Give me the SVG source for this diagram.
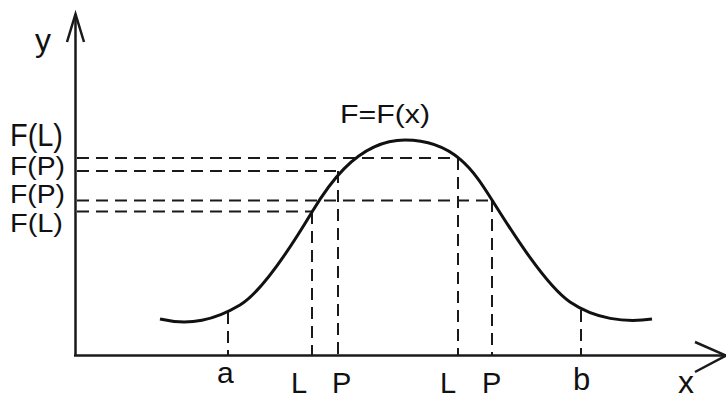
<svg xmlns="http://www.w3.org/2000/svg" width="726" height="401" viewBox="0 0 726 401">
<style>
.ax{stroke:#1a1a1a;stroke-width:2.5;fill:none}
.cv{stroke:#111;stroke-width:3;fill:none}
.ds{stroke:#1a1a1a;stroke-width:2;fill:none;stroke-dasharray:12 7}
text{font-family:"Liberation Sans",Arial,sans-serif;fill:#111}
</style>
<rect width="726" height="401" fill="#fff"/>
<g id="axes">
<line class="ax" x1="75.5" y1="14" x2="75.5" y2="356"/>
<polyline class="ax" points="67,42 75.5,14 84,42"/>
<line class="ax" x1="74" y1="355.5" x2="726" y2="355.5"/>
<polyline class="ax" points="695,342 726,355.5 695,372"/>
</g>
<g id="guides">
<line class="ds" x1="77" y1="158" x2="458" y2="158"/>
<line class="ds" x1="77" y1="171" x2="338" y2="171"/>
<line class="ds" x1="77" y1="200.5" x2="492" y2="200.5"/>
<line class="ds" x1="77" y1="211.5" x2="312" y2="211.5"/>
<line class="ds" x1="312" y1="212" x2="312" y2="355"/>
<line class="ds" x1="338" y1="171" x2="338" y2="355"/>
<line class="ds" x1="458" y1="158" x2="458" y2="355"/>
<line class="ds" x1="492" y1="200" x2="492" y2="355"/>
<line class="ds" x1="228" y1="312" x2="228" y2="355"/>
<line class="ds" x1="581" y1="310" x2="581" y2="355"/>
</g>
<g id="curve">
<path class="cv" d="M160,319 C190,326 215,320 240,305 S300,232 312,212 S355,140 405,140 S475,173 492,200 S545,285 570,302 S625,323 652,319"/>
</g>
<g id="labels">
<text x="35" y="51" font-size="32">y</text>
<text x="10" y="146" font-size="32" textLength="53" lengthAdjust="spacingAndGlyphs">F(L)</text>
<text x="10" y="175" font-size="25" textLength="55" lengthAdjust="spacingAndGlyphs">F(P)</text>
<text x="10" y="203" font-size="25" textLength="55" lengthAdjust="spacingAndGlyphs">F(P)</text>
<text x="10" y="232" font-size="25" textLength="53" lengthAdjust="spacingAndGlyphs">F(L)</text>
<text x="340" y="123" font-size="26" textLength="90" lengthAdjust="spacingAndGlyphs">F=F(x)</text>
<text x="217" y="383" font-size="30">a</text>
<text x="291" y="393" font-size="29">L</text>
<text x="332" y="393" font-size="29">P</text>
<text x="440" y="393" font-size="29">L</text>
<text x="482" y="393" font-size="29">P</text>
<text x="573" y="390" font-size="31">b</text>
<text x="678" y="393" font-size="32">x</text>
</g>
</svg>
